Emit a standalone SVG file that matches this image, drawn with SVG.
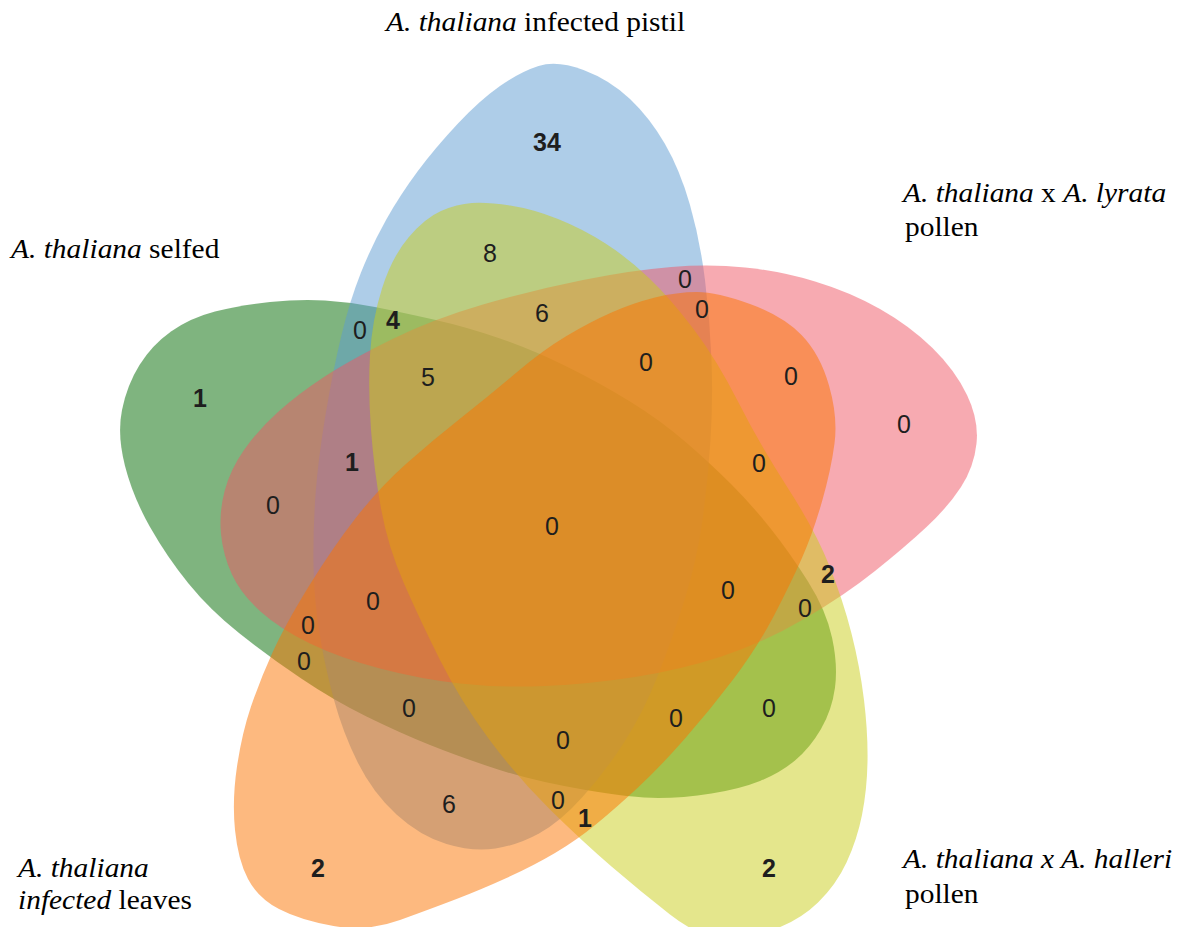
<svg xmlns="http://www.w3.org/2000/svg" width="1182" height="927" viewBox="0 0 1182 927">
<style>
.set{fill-opacity:0.5;stroke:none}
.lab{font-family:"Liberation Serif","Times New Roman",serif;font-size:27px;fill:#000}
.it{font-style:italic}
.n{font-family:"Liberation Sans",Arial,sans-serif;font-size:25px;fill:#1e1e1e;text-anchor:middle}
.b{font-weight:bold}
</style>
<rect width="1182" height="927" fill="#ffffff"/>
<g id="set-selfed">
<path class="set" fill="#006900" d="M 125,466 Q 117,435 122,410 Q 127,385 139.5,365 Q 152,345 171,331.5 Q 190,318 215,311.5 Q 240,305 270,302 Q 300,299 325,300.5 Q 350,302 375,307 Q 400,312 433.5,319.5 Q 467,327 500,338.5 Q 533,350 566.5,366.5 Q 600,383 630,401.5 Q 660,420 685,441.5 Q 710,463 731,484 Q 752,505 771,529 Q 790,553 808,581.5 Q 826,610 832,637.5 Q 838,665 835,687.5 Q 832,710 821,729 Q 810,748 795,760.5 Q 780,773 760,781 Q 740,789 711.5,793.5 Q 683,798 658,798 Q 633,798 583,789.5 Q 533,781 496.5,769 Q 460,757 430,745 Q 400,733 366.5,716.5 Q 333,700 300.5,678 Q 268,656 239,633 Q 210,610 188.5,583.5 Q 167,557 150,527 Q 133,497 125,466 Z"/>
<text class="lab" transform="translate(11,258) scale(1.09,1)"><tspan class="it">A. thaliana</tspan> selfed</text>
</g>
<g id="set-pistil">
<path class="set" fill="#5d9bd1" d="M 538.5,66 Q 557,60 583.5,70 Q 610,80 630,99 Q 650,118 665,144 Q 680,170 690,205 Q 700,240 705,280 Q 710,320 711.5,360 Q 713,400 710.5,440 Q 708,480 702.5,520 Q 697,560 684.5,600 Q 672,640 657.5,676.5 Q 643,713 624,742.5 Q 605,772 582.5,797 Q 560,822 539,833.5 Q 518,845 495.5,848.5 Q 473,852 446.5,844 Q 420,836 396.5,814.5 Q 373,793 358,763 Q 343,733 334,700 Q 325,667 319.5,633.5 Q 314,600 313.5,565 Q 313,530 315.5,495 Q 318,460 325.5,415 Q 333,370 341.5,335 Q 350,300 361,272.5 Q 372,245 386,220 Q 400,195 417.5,171.5 Q 435,148 457.5,124 Q 480,100 500,86 Q 520,72 538.5,66 Z"/>
<text class="lab" transform="translate(386,31) scale(1.09,1)"><tspan class="it">A. thaliana</tspan> infected pistil</text>
</g>
<g id="set-lyrata">
<path class="set" fill="#ef5563" d="M 221,534 Q 219,513 224.5,491.5 Q 230,470 244,450 Q 258,430 278,412 Q 298,394 324,377 Q 350,360 391.5,339.5 Q 433,319 483,304.5 Q 533,290 583,280 Q 633,270 671.5,267 Q 710,264 745,267.5 Q 780,271 815,281.5 Q 850,292 880,309 Q 910,326 932.5,348 Q 955,370 967,395 Q 979,420 976.5,443.5 Q 974,467 961,487 Q 948,507 926.5,527 Q 905,547 875,571 Q 845,595 804,619 Q 763,643 721.5,656.5 Q 680,670 635,677 Q 590,684 545,686 Q 500,688 460,683.5 Q 420,679 380,668.5 Q 340,658 310,643.5 Q 280,629 260.5,611.5 Q 241,594 232,574.5 Q 223,555 221,534 Z"/>
<text class="lab" transform="translate(903,202) scale(1.09,1)"><tspan class="it">A. thaliana</tspan> x <tspan class="it">A. lyrata</tspan></text>
<text class="lab" transform="translate(905,236) scale(1.09,1)">pollen</text>
</g>
<g id="set-halleri">
<path class="set" fill="#c9cd19" d="M 472,203 Q 487,202 510,205.5 Q 533,209 558,219 Q 583,229 605.5,243.5 Q 628,258 649,278 Q 670,298 693.5,329 Q 717,360 738.5,402.5 Q 760,445 787.5,487.5 Q 815,530 829,565 Q 843,600 851.5,633.5 Q 860,667 864,700 Q 868,733 867.5,761.5 Q 867,790 862,815 Q 857,840 846.5,862.5 Q 836,885 818,902.5 Q 800,920 775,929 Q 750,938 725,938 Q 700,938 670,914.5 Q 640,891 611.5,866.5 Q 583,842 550,809.5 Q 517,777 488.5,738.5 Q 460,700 440,660 Q 420,620 404,583.5 Q 388,547 381,508.5 Q 374,470 371,430 Q 368,390 370,355 Q 372,320 382,288.5 Q 392,257 408.5,237.5 Q 425,218 441,211 Q 457,204 472,203 Z"/>
<text class="lab it" transform="translate(903,868) scale(1.09,1)">A. thaliana x A. halleri</text>
<text class="lab" transform="translate(905,903) scale(1.09,1)">pollen</text>
</g>
<g id="set-leaves">
<path class="set" fill="#fb7300" d="M 697,292 Q 717,292 750,304 Q 783,316 801.5,335 Q 820,354 829,385.5 Q 838,417 834.5,443.5 Q 831,470 822,501.5 Q 813,533 801.5,559 Q 790,585 773.5,616.5 Q 757,648 733.5,679 Q 710,710 685,738.5 Q 660,767 638.5,787 Q 617,807 597,823.5 Q 577,840 555,853 Q 533,866 506.5,878 Q 480,890 456.5,899 Q 433,908 400,920 Q 367,932 333.5,926 Q 300,920 279,909 Q 258,898 248,879 Q 238,860 235,830 Q 232,800 237,766.5 Q 242,733 251,706.5 Q 260,680 272.5,652.5 Q 285,625 309,586 Q 333,547 356.5,517 Q 380,487 406.5,463.5 Q 433,440 461.5,417.5 Q 490,395 516.5,372.5 Q 543,350 566.5,336 Q 590,322 611.5,312.5 Q 633,303 655,297.5 Q 677,292 697,292 Z"/>
<text class="lab it" transform="translate(18,877) scale(1.09,1)">A. thaliana</text>
<text class="lab" transform="translate(18,909) scale(1.09,1)"><tspan class="it">infected</tspan> leaves</text>
</g>
<g id="counts">
<text class="n b" x="547" y="151">34</text>
<text class="n" x="490" y="262">8</text>
<text class="n" x="685" y="288">0</text>
<text class="n" x="702" y="318">0</text>
<text class="n" x="542" y="322">6</text>
<text class="n b" x="393" y="329">4</text>
<text class="n" x="360" y="339">0</text>
<text class="n b" x="200" y="407">1</text>
<text class="n" x="428" y="386">5</text>
<text class="n b" x="352" y="471">1</text>
<text class="n" x="273" y="514">0</text>
<text class="n" x="646" y="371">0</text>
<text class="n" x="791" y="385">0</text>
<text class="n" x="904" y="433">0</text>
<text class="n" x="759" y="472">0</text>
<text class="n" x="552" y="535">0</text>
<text class="n b" x="828" y="583">2</text>
<text class="n" x="728" y="599">0</text>
<text class="n" x="805" y="617">0</text>
<text class="n" x="373" y="610">0</text>
<text class="n" x="308" y="634">0</text>
<text class="n" x="304" y="670">0</text>
<text class="n" x="409" y="717">0</text>
<text class="n" x="676" y="727">0</text>
<text class="n" x="769" y="717">0</text>
<text class="n" x="563" y="749">0</text>
<text class="n" x="449" y="813">6</text>
<text class="n" x="558" y="809">0</text>
<text class="n b" x="585" y="827">1</text>
<text class="n b" x="318" y="877">2</text>
<text class="n b" x="769" y="877">2</text>
</g>
</svg>
